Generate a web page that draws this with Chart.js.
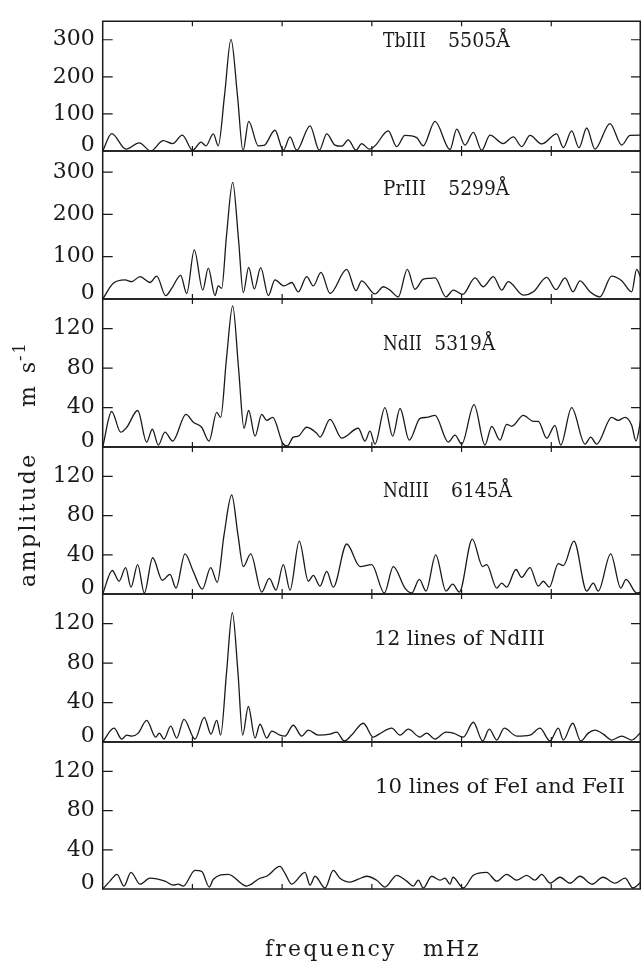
<!DOCTYPE html>
<html><head><meta charset="utf-8">
<script src="https://cdn.jsdelivr.net/npm/chart.js@4.4.1/dist/chart.umd.min.js"></script>
<style>
html,body{margin:0;padding:0;background:#fff;}
#wrap{position:relative;width:641px;height:967px;overflow:hidden;background:#fff;}
#wrap canvas{position:absolute;left:0;top:0;}
</style></head><body><div id="wrap"></div>
<script>
// ---- data ----
const xMin = 0, xMax = 6;
const xTickValues = [1, 2, 3, 4, 5];
const yTicksHigh = [0, 100, 200, 300];
const yTicksLow = [0, 40, 80, 120];
const yMaxHigh = 350, yMaxLow = 150;

const panelLabels = [
  ["TbIII", "5505Å"],
  ["PrIII", "5299Å"],
  ["NdII", "5319Å"],
  ["NdIII", "6145Å"],
  ["12 lines of NdIII"],
  ["10 lines of FeI and FeII"]
];
const xTitle = ["frequency", "mHz"];
const yTitle = ["amplitude", "m s", "-1"];

const tbFreq = [0,0.100,0.260,0.408,0.535,0.675,0.780,0.887,1.003,1.096,1.151,1.233,1.288,1.358,1.430,1.502,1.564,1.627,1.734,1.798,1.920,2.013,2.088,2.162,2.311,2.414,2.497,2.589,2.664,2.737,2.823,2.887,2.972,3.035,3.183,3.277,3.369,3.500,3.573,3.704,3.871,3.946,4.038,4.131,4.224,4.317,4.462,4.577,4.670,4.763,4.893,5.060,5.134,5.227,5.309,5.395,5.487,5.654,5.785,5.877,6.000];
const tbAmp = [0,47,5,22,0,28,20,43,2,24,14,46,14,150,301,150,0,80,14,15,56,2,38,2,68,2,46,16,13,30,2,20,5,14,54,12,42,36,14,80,4,59,16,50,2,43,20,38,12,42,19,46,9,54,9,62,5,74,16,42,43];

const prFreq = [0,0.118,0.249,0.323,0.416,0.527,0.602,0.702,0.769,0.869,0.936,1.021,1.115,1.177,1.252,1.288,1.326,1.380,1.449,1.514,1.567,1.627,1.690,1.761,1.846,1.920,2.021,2.107,2.180,2.274,2.347,2.433,2.534,2.720,2.823,2.887,3.035,3.128,3.202,3.295,3.395,3.481,3.573,3.648,3.704,3.826,3.908,4.013,4.150,4.242,4.354,4.447,4.521,4.688,4.800,4.949,5.052,5.153,5.242,5.320,5.431,5.542,5.673,5.785,5.896,5.952,6.000];
const prAmp = [0,37,45,41,53,39,54,8,25,56,13,116,21,73,8,31,25,150,276,140,15,75,24,74,8,45,31,39,17,53,31,63,13,70,20,43,12,29,21,5,70,23,47,49,50,5,21,11,50,29,53,21,41,9,17,51,22,50,17,43,17,5,54,43,17,70,49];

const nd2Freq = [0,0.100,0.201,0.268,0.390,0.490,0.553,0.620,0.694,0.780,0.928,1.010,1.103,1.185,1.271,1.315,1.380,1.449,1.514,1.575,1.627,1.698,1.772,1.828,1.895,2.006,2.058,2.124,2.180,2.274,2.385,2.422,2.534,2.664,2.849,2.924,2.979,3.035,3.146,3.232,3.314,3.417,3.537,3.611,3.704,3.852,3.927,4.001,4.139,4.261,4.336,4.428,4.503,4.559,4.688,4.800,4.855,4.949,5.041,5.105,5.227,5.376,5.439,5.506,5.673,5.744,5.822,5.896,5.944,6.000];
const nd2Amp = [0,36,15,20,37,5,18,2,15,6,33,25,20,6,35,30,90,143,80,19,37,11,33,27,30,4,1,10,11,20,14,10,28,9,19,6,16,3,40,11,39,7,29,30,32,5,12,3,43,2,21,7,23,21,32,26,26,9,22,2,40,3,10,3,30,27,30,22,6,29];

const nd3Freq = [0,0.107,0.182,0.256,0.315,0.390,0.464,0.557,0.664,0.750,0.817,0.917,1.010,1.110,1.204,1.277,1.352,1.438,1.508,1.567,1.650,1.772,1.857,1.932,2.013,2.088,2.191,2.292,2.347,2.422,2.497,2.570,2.720,2.868,2.998,3.139,3.239,3.369,3.444,3.529,3.604,3.712,3.826,3.901,3.975,4.120,4.235,4.280,4.392,4.447,4.503,4.607,4.670,4.763,4.855,4.911,4.978,5.078,5.134,5.253,5.395,5.468,5.524,5.662,5.774,5.833,5.952,6.000];
const nd3Amp = [0,24,13,27,7,30,1,37,14,20,6,41,23,5,27,12,60,101,60,28,41,2,16,4,30,4,54,13,19,8,23,7,51,28,30,1,28,6,1,15,3,40,3,10,2,56,28,30,6,11,7,25,17,27,8,13,7,31,29,54,3,11,3,41,6,15,1,2];

const nd12Freq = [0,0.126,0.212,0.268,0.323,0.397,0.490,0.591,0.631,0.683,0.758,0.825,0.906,1.029,1.132,1.207,1.271,1.315,1.380,1.445,1.508,1.560,1.623,1.698,1.753,1.828,1.884,1.976,2.032,2.124,2.218,2.292,2.403,2.534,2.608,2.693,2.775,2.905,3.016,3.080,3.221,3.314,3.406,3.537,3.611,3.704,3.826,3.908,4.019,4.131,4.235,4.309,4.392,4.476,4.614,4.763,4.874,4.986,5.078,5.134,5.239,5.328,5.412,5.487,5.580,5.673,5.785,5.896,6.000];
const nd12Amp = [0,14,3,7,6,9,22,5,9,3,16,4,23,3,25,8,22,7,70,131,70,7,36,4,18,4,11,7,6,17,6,12,7,8,10,1,7,19,5,8,14,7,13,5,9,3,10,9,5,20,1,13,2,14,6,7,14,1,14,2,19,1,9,12,8,2,6,2,10];

const feFreq = [0,0.081,0.159,0.237,0.315,0.416,0.527,0.694,0.787,0.843,0.898,1.029,1.103,1.188,1.233,1.400,1.605,1.753,1.828,1.976,2.032,2.107,2.255,2.311,2.366,2.478,2.570,2.645,2.756,2.849,2.943,3.054,3.146,3.277,3.388,3.462,3.518,3.573,3.667,3.760,3.815,3.871,3.904,4.019,4.131,4.280,4.392,4.503,4.614,4.726,4.818,4.893,4.986,5.097,5.208,5.320,5.454,5.576,5.710,5.822,5.911,6.000];
const feAmp = [0,8,15,3,17,5,11,8,4,5,3,19,18,2,10,15,3,11,13,23,16,5,17,4,13,1,19,11,7,10,13,9,2,14,8,3,9,1,13,9,11,5,12,1,14,17,8,15,9,14,9,15,6,12,6,13,5,12,6,11,1,7];

// ---- layout / style ----
const W = 641, H = 967;
const panelEdges = [4, 151, 299, 447, 594, 742, 889];
const plotLeft = 102.7;
const INK = '#1a1a1a';
const SERIF = '"DejaVu Serif", "Liberation Serif", serif';
const labelPlace = [
  {y: 46.7, parts: [[383, 43], [448, 62]]},
  {y: 195, parts: [[383, 43], [448.3, 61]]},
  {y: 350, parts: [[383, 39], [434.3, 61]]},
  {y: 496.7, parts: [[383, 46], [451, 61]]},
  {y: 645, parts: [[374, 171]]},
  {y: 792.7, parts: [[375, 250]]}
];

const panels = [
  {freq: tbFreq, amp: tbAmp, yMax: yMaxHigh, ticks: yTicksHigh},
  {freq: prFreq, amp: prAmp, yMax: yMaxHigh, ticks: yTicksHigh},
  {freq: nd2Freq, amp: nd2Amp, yMax: yMaxLow, ticks: yTicksLow},
  {freq: nd3Freq, amp: nd3Amp, yMax: yMaxLow, ticks: yTicksLow},
  {freq: nd12Freq, amp: nd12Amp, yMax: yMaxLow, ticks: yTicksLow},
  {freq: feFreq, amp: feAmp, yMax: yMaxLow, ticks: yTicksLow}
];

function fitText(ctx, text, x, y, w) {
  const m = ctx.measureText(text).width;
  ctx.save();
  ctx.translate(x, y);
  ctx.scale(w / m, 1);
  ctx.fillText(text, 0, 0);
  ctx.restore();
}
function spacedText(ctx, text, x, y, sp) {
  let cx = x;
  for (const ch of text) {
    ctx.fillText(ch, cx, y);
    cx += ctx.measureText(ch).width + sp;
  }
}

function framePlugin(idx) {
  return {
    id: 'frame' + idx,
    afterDraw(chart) {
      const ctx = chart.ctx;
      const a = chart.chartArea;
      const xs = chart.scales.x, ys = chart.scales.y;
      const p = panels[idx];
      ctx.save();
      ctx.strokeStyle = INK;
      ctx.lineWidth = 1.5;
      ctx.beginPath();
      ctx.rect(a.left, a.top, a.right - a.left - 0.75, a.bottom - a.top);
      ctx.stroke();
      ctx.lineWidth = 1.2;
      ctx.beginPath();
      for (const v of p.ticks) {
        if (v === 0) continue;
        const py = ys.getPixelForValue(v);
        ctx.moveTo(a.left, py); ctx.lineTo(a.left + 10, py);
        ctx.moveTo(a.right, py); ctx.lineTo(a.right - 10, py);
      }
      for (const v of xTickValues) {
        const px = xs.getPixelForValue(v);
        ctx.moveTo(px, a.bottom); ctx.lineTo(px, a.bottom - 5);
        ctx.moveTo(px, a.top); ctx.lineTo(px, a.top + 5);
      }
      ctx.stroke();

      ctx.fillStyle = INK;
      ctx.font = '22px ' + SERIF;
      ctx.textAlign = 'right';
      ctx.textBaseline = 'middle';
      ctx.fillText(String(p.ticks[0]), a.left - 8, ys.getPixelForValue(0) - 6);

      ctx.textAlign = 'left';
      ctx.textBaseline = 'alphabetic';
      ctx.font = '20px ' + SERIF;
      const lp = labelPlace[idx];
      panelLabels[idx].forEach((t, k) => {
        fitText(ctx, t, lp.parts[k][0], lp.y, lp.parts[k][1]);
      });

      if (idx === panels.length - 1) {
        ctx.font = '22px ' + SERIF;
        spacedText(ctx, xTitle[0], 265, 956, 2.2);
        spacedText(ctx, xTitle[1], 423, 956, 2);
      }
      if (idx === 0) {
        ctx.save();
        ctx.translate(35, 587);
        ctx.rotate(-Math.PI / 2);
        ctx.font = '22px ' + SERIF;
        spacedText(ctx, yTitle[0], 0, 0, 2.5);
        spacedText(ctx, yTitle[1], 180, 0, 3);
        ctx.font = '16px ' + SERIF;
        spacedText(ctx, yTitle[2], 226, -10, 2);
        ctx.restore();
      }
      ctx.restore();
    }
  };
}

const wrap = document.getElementById('wrap');
panels.forEach((p, i) => {
  const c = document.createElement('canvas');
  c.width = W; c.height = H;
  c.style.width = W + 'px'; c.style.height = H + 'px';
  wrap.appendChild(c);
  new Chart(c, {
    type: 'line',
    data: {
      datasets: [{
        data: p.freq.map((f, k) => ({x: f, y: p.amp[k]})),
        borderColor: INK,
        borderWidth: 1.3,
        pointRadius: 0,
        fill: false,
        cubicInterpolationMode: 'monotone'
      }]
    },
    options: {
      responsive: false,
      animation: false,
      devicePixelRatio: 1,
      layout: {padding: {top: panelEdges[i], bottom: H - panelEdges[i + 1], left: 0, right: 0}},
      plugins: {legend: {display: false}, tooltip: {enabled: false}},
      scales: {
        x: {type: 'linear', min: xMin, max: xMax, display: false},
        y: {
          type: 'linear', min: 0, max: p.yMax,
          afterFit(s) { s.width = plotLeft; },
          afterBuildTicks(s) { s.ticks = p.ticks.map(v => ({value: v})); },
          grid: {display: false, drawTicks: false},
          border: {display: false},
          ticks: {
            font: {family: SERIF, size: 22},
            color: INK,
            padding: 8,
            callback: v => (v === 0 ? '' : String(v))
          }
        }
      }
    },
    plugins: [framePlugin(i)]
  });
});
</script>
</body></html>
